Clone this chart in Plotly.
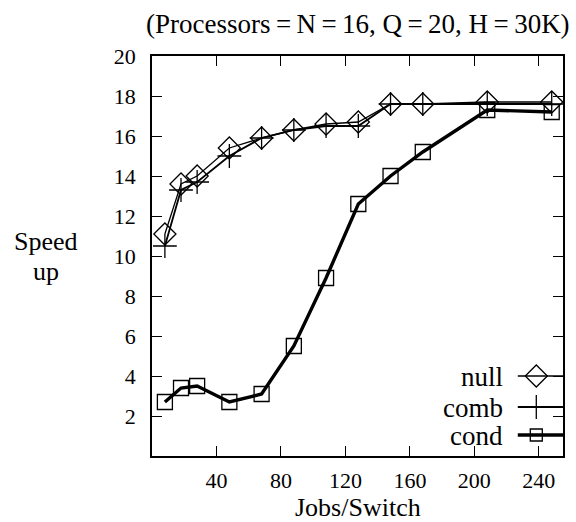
import plotly.graph_objects as go

jobs = [8, 18, 28, 48, 68, 88, 108, 128, 148, 168, 208, 248]
null_speed = [11.1, 13.6, 14.0, 15.4, 15.9, 16.3, 16.6, 16.7, 17.6, 17.6, 17.7, 17.7]
comb_speed = [10.5, 13.3, 13.7, 15.0, 15.9, 16.3, 16.5, 16.5, 17.6, 17.6, 17.6, 17.6]
cond_speed = [2.7, 3.4, 3.5, 2.7, 3.1, 5.5, 8.9, 12.6, 14.0, 15.2, 17.3, 17.2]
series_names = ["null", "comb", "cond"]
x_ticks = [40, 80, 120, 160, 200, 240]
y_ticks = [2, 4, 6, 8, 10, 12, 14, 16, 18, 20]

FONT = "Liberation Serif"
TXT = 27
TICK = 22
styles = {
    "null": dict(width=1.3, symbol="diamond-open", size=17, leg=17),
    "comb": dict(width=1.8, symbol="cross-thin-open", size=17, leg=17),
    "cond": dict(width=3.4, symbol="square-open", size=15, leg=12),
}
data = {"null": null_speed, "comb": comb_speed, "cond": cond_speed}

fig = go.Figure()
for name in series_names:
    st = styles[name]
    fig.add_trace(go.Scatter(
        x=jobs, y=data[name], mode="lines+markers", name=name,
        line=dict(color="black", width=st["width"]),
        marker=dict(symbol=st["symbol"], size=st["size"], color="black",
                    line=dict(color="black", width=1.3)),
        showlegend=False, xaxis="x", yaxis="y"))

# manual legend (text left of key) on an overlay axis in 0..1 units
leg_y = [0.20, 0.1225, 0.0525]
for name, ly in zip(series_names, leg_y):
    st = styles[name]
    fig.add_trace(go.Scatter(
        x=[0.89, 0.935, 1.0], y=[ly, ly, ly], mode="lines",
        line=dict(color="black", width=st["width"]),
        showlegend=False, xaxis="x2", yaxis="y2", hoverinfo="skip"))
    fig.add_trace(go.Scatter(
        x=[0.935], y=[ly], mode="markers",
        marker=dict(symbol=st["symbol"], size=st["leg"], color="black",
                    line=dict(color="black", width=1.3)),
        showlegend=False, xaxis="x2", yaxis="y2", hoverinfo="skip"))
    fig.add_annotation(x=0.86, y=ly, xref="x2", yref="y2", text=name,
                       showarrow=False, xanchor="right", yanchor="middle",
                       yshift=-1,
                       font=dict(family=FONT, size=TXT, color="black"))

axis_common = dict(showgrid=False, zeroline=False, showline=True, linecolor="black",
                   linewidth=1.5, mirror="ticks", ticks="inside", ticklen=10,
                   tickwidth=1.3, tickcolor="black",
                   tickfont=dict(family=FONT, size=TICK, color="black"))

fig.update_layout(
    width=576, height=522,
    margin=dict(l=152, r=11, t=56, b=66),
    paper_bgcolor="white", plot_bgcolor="white",
    xaxis=dict(range=[0, 255], tickvals=x_ticks, ticklabelstandoff=4, **axis_common),
    yaxis=dict(range=[0, 20], tickvals=y_ticks, ticklabelstandoff=10, **axis_common),
    xaxis2=dict(range=[0, 1], overlaying="x", visible=False),
    yaxis2=dict(range=[0, 1], overlaying="y", visible=False),
    showlegend=False,
)
th = "\u2009"
ann_font = dict(family=FONT, size=TXT, color="black")
side_font = dict(family=FONT, size=26, color="black")
fig.add_annotation(x=0.5, y=1, xref="paper", yref="paper", yshift=32,
                   xanchor="center", yanchor="middle",
                   text=f"(Processors{th}={th}N{th}={th}16, Q{th}={th}20, H{th}={th}30K)",
                   showarrow=False, font=ann_font)
fig.add_annotation(x=0.5, y=0, xref="paper", yref="paper", yshift=-51,
                   xanchor="center", yanchor="middle",
                   text="Jobs/Switch", showarrow=False, font=side_font)
fig.add_annotation(x=-0.259, y=0.5, xref="paper", yref="paper", yshift=15,
                   xanchor="center", yanchor="middle",
                   text="Speed", showarrow=False, font=side_font)
fig.add_annotation(x=-0.259, y=0.5, xref="paper", yref="paper", yshift=-15,
                   xanchor="center", yanchor="middle",
                   text="up", showarrow=False, font=side_font)

fig.write_html("out.html", config={"displayModeBar": False},
               post_script="document.body.style.margin='0';")
